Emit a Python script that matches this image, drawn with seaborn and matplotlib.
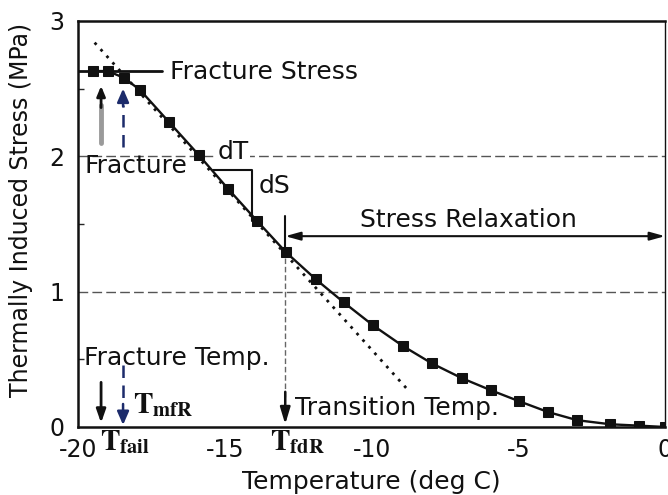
import matplotlib
matplotlib.use('Agg')
import matplotlib.pyplot as plt
import seaborn as sns
import pandas as pd

# measured curve (deg C, MPa)
temps = [-19.5, -19.0, -18.45, -17.9, -16.9, -15.9, -14.9, -13.9, -12.92, -11.9,
         -10.95, -9.95, -8.95, -7.95, -6.92, -5.92, -4.97, -3.98, -2.99, -1.86,
         -0.9, 0.0]
stress = [2.63, 2.63, 2.58, 2.49, 2.25, 2.01, 1.76, 1.52, 1.29, 1.09,
          0.92, 0.75, 0.60, 0.47, 0.36, 0.27, 0.19, 0.11, 0.05, 0.02,
          0.01, 0.0]

# tangent through transition point
tangent_t = [-19.45, -8.75]
tangent_s = [2.84, 0.27]

fracture_stress = 2.63
t_fail = -19.23
t_mfr = -18.48
t_fdr = -12.95
relax_level = 1.41

xticks = [-20, -15, -10, -5, 0]
yticks = [0, 1, 2, 3]

sns.set_style('white')
plt.rcParams['font.family'] = ['DejaVu Sans']
plt.rcParams['mathtext.fontset'] = 'stix'

fig = plt.figure(figsize=(6.68, 4.95), dpi=100)
ax = fig.add_axes([0.1175, 0.1374, 0.878, 0.8202])

ink = '#111111'
navy = '#1c2b6b'

df = pd.DataFrame({'T': temps, 'S': stress})
sns.lineplot(data=df, x='T', y='S', ax=ax, color=ink, lw=1.7, marker='s',
             markersize=6.8, markeredgecolor=ink, sort=False, zorder=5)
ax.plot(tangent_t, tangent_s, color=ink, lw=2, linestyle=(0, (1, 2.2)), zorder=4)

for lev in [1, 2]:
    ax.axhline(lev, color='#555555', lw=1, linestyle=(0, (7, 3)), zorder=1)

ax.set_xlim(-20, 0)
ax.set_ylim(0, 3)
ax.set_xticks(xticks)
ax.set_yticks(yticks)
ax.set_yticks([0.5, 1.5, 2.5], minor=True)
ax.set_xticklabels([str(v) for v in xticks])
ax.tick_params(axis='both', which='major', direction='in', length=5, width=1.2,
               labelsize=17, colors=ink)
ax.tick_params(axis='y', which='minor', direction='in', length=4, width=1, left=True)
ax.tick_params(axis='x', pad=8)
ax.tick_params(axis='y', pad=10)
for side in ['left', 'bottom', 'top', 'right']:
    ax.spines[side].set_visible(True)
    ax.spines[side].set_color(ink)
    ax.spines[side].set_linewidth(1.8)
ax.spines['right'].set_linewidth(1.0)

ax.set_xlabel('Temperature (deg C)', fontsize=18, color=ink, labelpad=6)
ax.set_ylabel('Thermally Induced Stress (MPa)', fontsize=17, color=ink)
ax.yaxis.set_label_coords(-0.078, 0.534)

# fracture stress
ax.plot([-20, -17.15], [fracture_stress, fracture_stress], color=ink, lw=2, zorder=6)
ax.text(-16.87, 2.62, 'Fracture Stress', fontsize=18, color=ink,
        ha='left', va='center')

# arrows pointing up to fracture
ax.plot([t_fail, t_fail], [2.10, 2.38], color='#9a9a9a', lw=3.5, zorder=3)
ax.annotate('', xy=(t_fail, 2.52), xytext=(t_fail, 2.36),
            arrowprops=dict(arrowstyle='-|>,head_length=0.6,head_width=0.25',
                            color=ink, lw=2, shrinkA=0, shrinkB=0))
ax.plot([t_mfr, t_mfr], [2.07, 2.38], color=navy, lw=1.8, linestyle=(0, (5, 3)), zorder=3)
ax.annotate('', xy=(t_mfr, 2.50), xytext=(t_mfr, 2.37),
            arrowprops=dict(arrowstyle='-|>,head_length=0.8,head_width=0.35',
                            color=navy, lw=1.8, shrinkA=0, shrinkB=0))
ax.text(-19.8, 1.93, 'Fracture', fontsize=18, color=ink, ha='left', va='center')

# dT / dS triangle
ax.plot([-15.4, -14.08, -14.08], [1.90, 1.90, 1.52], color=ink, lw=1.5, zorder=3)
ax.text(-15.24, 2.03, 'dT', fontsize=18, color=ink, ha='left', va='center',
        bbox=dict(facecolor='white', edgecolor='none', pad=0.5))
ax.text(-13.87, 1.78, 'dS', fontsize=18, color=ink, ha='left', va='center')

# stress relaxation
ax.plot([t_fdr, t_fdr], [1.33, 1.56], color=ink, lw=1.5)
ax.annotate('', xy=(t_fdr, relax_level), xytext=(0, relax_level),
            arrowprops=dict(arrowstyle='<|-|>,head_length=0.9,head_width=0.25',
                            color=ink, lw=1.5, shrinkA=0, shrinkB=0))
ax.text(-10.4, 1.53, 'Stress Relaxation', fontsize=18, color=ink,
        ha='left', va='center')

# transition temperature
ax.plot([t_fdr, t_fdr], [1.25, 0.22], color='#666666', lw=1, linestyle=(0, (4, 2)), zorder=2)
ax.annotate('', xy=(t_fdr, 0.02), xytext=(t_fdr, 0.26),
            arrowprops=dict(arrowstyle='-|>,head_length=1.0,head_width=0.3',
                            color=ink, lw=1.8, shrinkA=0, shrinkB=0))
ax.text(-12.6, 0.14, 'Transition Temp.', fontsize=18, color=ink,
        ha='left', va='center', bbox=dict(facecolor='white', edgecolor='none', pad=0.3))

# fracture temperature
ax.text(-19.8, 0.51, 'Fracture Temp.', fontsize=18, color=ink, ha='left', va='center')
ax.annotate('', xy=(t_fail, 0.03), xytext=(t_fail, 0.33),
            arrowprops=dict(arrowstyle='-|>,head_length=0.8,head_width=0.28',
                            color=ink, lw=2, shrinkA=0, shrinkB=0))
ax.plot([t_mfr, t_mfr], [0.46, 0.16], color=navy, lw=1.8, linestyle=(0, (5, 3)))
ax.annotate('', xy=(t_mfr, 0.015), xytext=(t_mfr, 0.17),
            arrowprops=dict(arrowstyle='-|>,head_length=0.8,head_width=0.35',
                            color=navy, lw=1.8, shrinkA=0, shrinkB=0))

# temperature symbols
ax.text(-18.14, 0.10, r'$\mathbf{T}_{\mathbf{mfR}}$', fontsize=21, color=ink,
        ha='left', va='baseline')
ax.text(-19.27, -0.17, r'$\mathbf{T}_{\mathbf{fail}}$', fontsize=21, color=ink,
        ha='left', va='baseline', clip_on=False)
ax.text(-13.46, -0.17, r'$\mathbf{T}_{\mathbf{fdR}}$', fontsize=21, color=ink,
        ha='left', va='baseline', clip_on=False)

fig.savefig('out.png', dpi=100)
